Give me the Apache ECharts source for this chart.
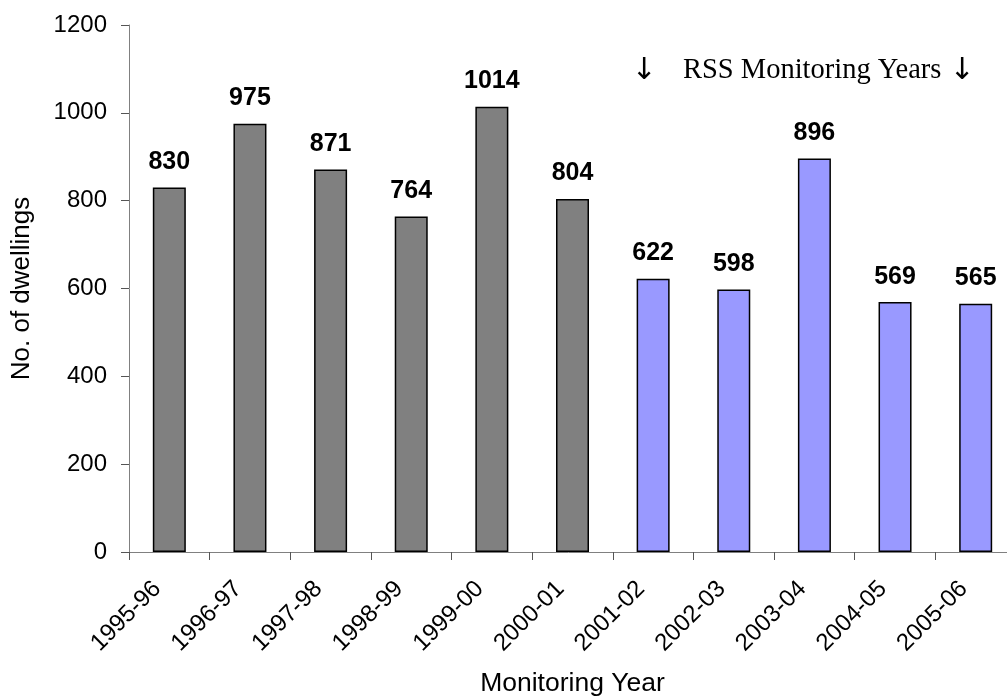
<!DOCTYPE html>
<html>
<head>
<meta charset="utf-8">
<script src="https://cdn.jsdelivr.net/npm/echarts@6/dist/echarts.min.js"></script>
<style>
html,body{margin:0;padding:0;background:#fff;}
#chart{width:1007px;height:697px;}
</style>
</head>
<body>
<div id="chart"></div>
<script>
var categories = ['1995-96','1996-97','1997-98','1998-99','1999-00','2000-01','2001-02','2002-03','2003-04','2004-05','2005-06'];
var dwellings = [830, 975, 871, 764, 1014, 804, 622, 598, 896, 569, 565];
var isRSS = [false, false, false, false, false, false, true, true, true, true, true];
var yTicks = [0, 200, 400, 600, 800, 1000, 1200];

var SANS = '"Liberation Sans", Arial, sans-serif';
var SERIF = '"Liberation Serif", "Times New Roman", serif';
var ARROWFONT = '"DejaVu Sans", sans-serif';
var GREY = '#808080', BLUE = '#9999FF';

var chart = echarts.init(document.getElementById('chart'));
chart.setOption({
  animation: false,
  backgroundColor: '#ffffff',
  grid: {left: 129, top: 25, width: 887, height: 527, containLabel: false, outerBoundsMode: 'none'},
  xAxis: {
    type: 'category',
    data: categories,
    boundaryGap: true,
    name: 'Monitoring Year',
    nameLocation: 'middle',
    nameGap: 118,
    nameTextStyle: {fontFamily: SANS, fontSize: 26.5, color: '#000'},
    axisLine: {lineStyle: {color: '#808080', width: 1}},
    axisTick: {show: true, inside: false, length: 8, alignWithLabel: false, lineStyle: {color: '#555'}},
    axisLabel: {rotate: 45, margin: 21, padding: [0, 17, 0, 0], fontFamily: SANS, fontSize: 24, color: '#000', interval: 0}
  },
  yAxis: {
    type: 'value',
    min: yTicks[0],
    max: yTicks[yTicks.length - 1],
    interval: 200,
    name: 'No. of dwellings',
    nameLocation: 'middle',
    nameGap: 94,
    nameRotate: 90,
    nameTextStyle: {fontFamily: SANS, fontSize: 26, color: '#000'},
    axisLine: {show: true, lineStyle: {color: '#808080', width: 1}},
    axisTick: {show: true, inside: false, length: 8, lineStyle: {color: '#555'}},
    splitLine: {show: false},
    axisLabel: {margin: 22, fontFamily: SANS, fontSize: 24, color: '#000', formatter: function (v) { return String(v); }}
  },
  series: [{
    type: 'bar',
    barWidth: 33,
    data: dwellings.map(function (v, i) {
      return {value: v, itemStyle: {color: isRSS[i] ? BLUE : GREY}};
    }),
    itemStyle: {borderColor: '#000', borderWidth: 1.5},
    label: {
      show: true,
      position: 'top',
      distance: 13,
      fontFamily: SANS,
      fontSize: 25,
      fontWeight: 'bold',
      color: '#000'
    }
  }],
  graphic: [
    {type: 'text', x: 644, y: 71, style: {text: '\u2193', font: '30px ' + ARROWFONT, fill: '#000', textAlign: 'center', textVerticalAlign: 'middle'}},
    {type: 'text', x: 683, y: 71, style: {text: 'RSS Monitoring Years', font: '28.5px ' + SERIF, fill: '#000', textAlign: 'left', textVerticalAlign: 'middle'}},
    {type: 'text', x: 962, y: 71, style: {text: '\u2193', font: '30px ' + ARROWFONT, fill: '#000', textAlign: 'center', textVerticalAlign: 'middle'}}
  ]
});
</script>
</body>
</html>
